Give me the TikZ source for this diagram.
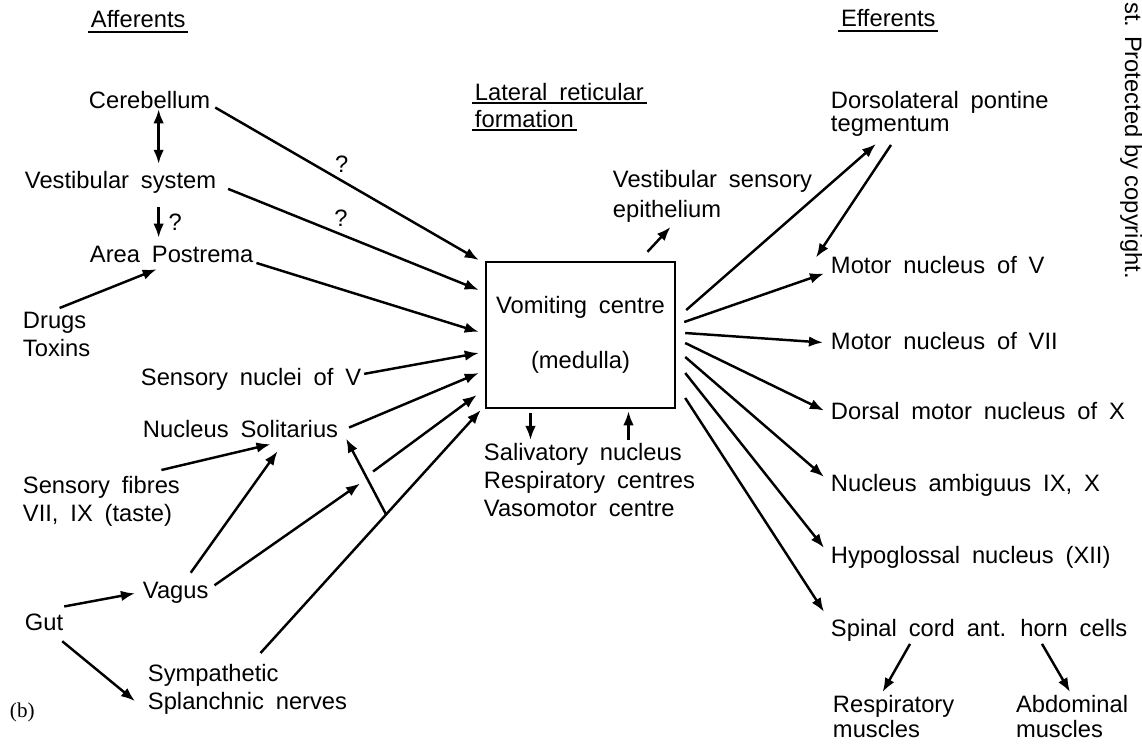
\documentclass[tikz,border=0pt]{standalone}
\usepackage{fontspec}
\setmainfont{Liberation Sans}[WordSpace=1.8]
\newfontfamily\tagfont{Liberation Serif}
\newfontfamily\markfont{Liberation Sans}
\usetikzlibrary{calc, arrows.meta}

\begin{document}
\begin{tikzpicture}[x=0.02cm, y=-0.02cm, line width=1.4pt, >={Latex[length=8pt,width=6pt]},
        lbl/.style={inner sep=1pt, anchor=base west, align=left, font=\fontsize{13.5}{16}\selectfont},
        lbls/.style={lbl, anchor=north west},
        qm/.style={inner sep=1pt, font=\fontsize{13.5}{16}\selectfont},
        arr/.style={->},
        uline/.style={line width=1.1pt}]
        \useasboundingbox (0,0) rectangle (1142,744);

        % Headings
        \node[lbl] (aff) at (88,27) {Afferents};
        \node[lbl] (lat1) at (472,100) {Lateral reticular};
        \node[lbl] (lat2) at (472,127) {formation};
        \node[lbl] (eff) at (838,26) {Efferents};
        \draw[uline] ($(aff.base west)+(0,5)$) -- ($(aff.base east)+(0,5)$);
        \draw[uline] ($(lat1.base west)+(0,3)$) -- ($(lat1.base east)+(0,3)$);
        \draw[uline] ($(lat2.base west)+(0,3)$) -- ($(lat2.base east)+(0,3)$);
        \draw[uline] ($(eff.base west)+(0,5)$) -- ($(eff.base east)+(0,5)$);

        % Afferents
        \node[lbl] (cereb) at (86,108) {Cerebellum};
        \node[lbl] (vest) at (22,188) {Vestibular system};
        \node[lbl] (area) at (87,262) {Area Postrema};
        \node[lbls] (drugs) at (20,309) {Drugs\\Toxins};
        \node[lbl] (sensV) at (138,385) {Sensory nuclei of V};
        \node[lbl] (nts) at (140,437) {Nucleus Solitarius};
        \node[lbls] (fibres) at (20,473) {Sensory fibres\\VII, IX (taste)};
        \node[lbl] (vagus) at (140,598) {Vagus};
        \node[lbl] (gut) at (22,630) {Gut};
        \node[lbls] (splanch) at (145,661) {Sympathetic\\Splanchnic nerves};
        \node[lbl, font=\tagfont\fontsize{12}{14}\selectfont] (tagb) at (7,717) {(b)};

        % Centre
        \node[draw, minimum width=3.78cm, minimum height=2.92cm, align=center,
              font=\fontsize{13.5}{16}\selectfont] (vc) at (580.5,335) {Vomiting centre\\[15pt](medulla)};
        \node[lbls] (below) at (481,440) {Salivatory nucleus\\Respiratory centres\\Vasomotor centre};
        \node[lbls] (vse) at (610,167) {Vestibular sensory\\[1pt]epithelium};

        % Efferents
        \node[lbls] (dpt) at (828,88) {Dorsolateral pontine\\[-3pt]tegmentum};
        \node[lbl] (mV) at (828,273) {Motor nucleus of V};
        \node[lbl] (mVII) at (828,349) {Motor nucleus of VII};
        \node[lbl] (dmX) at (828,419) {Dorsal motor nucleus of X};
        \node[lbl] (amb) at (828,491) {Nucleus ambiguus IX, X};
        \node[lbl] (hyp) at (828,563) {Hypoglossal nucleus (XII)};
        \node[lbl] (spinal) at (828,636) {Spinal cord ant. horn cells};
        \node[lbls] (resp) at (830,692) {Respiratory\\[-1.5pt]muscles};
        \node[lbls] (abd) at (1013,692) {Abdominal\\[-1.5pt]muscles};

        % Margin note
        \node[rotate=-90, anchor=base west, inner sep=0pt,
              font=\markfont\fontsize{13.5}{16}\selectfont] (wm) at (1125,1) {st. Protected by copyright.};

        % Ports on the centre
        \coordinate (pC) at ($(vc.west)+(-6,-75)$);
        \coordinate (pV) at ($(vc.west)+(-6,-45)$);
        \coordinate (pA) at ($(vc.west)+(-6,-3)$);
        \coordinate (pS) at ($(vc.west)+(-6,18)$);
        \coordinate (pN) at ($(vc.west)+(-6,38)$);
        \coordinate (pG) at ($(vc.west)+(-8,60)$);
        \coordinate (pY) at ($(vc.west)+(-4,75)$);
        \coordinate (pO) at ($(vc.north)+(67,-9)$);
        \coordinate (r1) at ($(vc.east)+(10,-25)$);
        \coordinate (r2) at ($(vc.east)+(8,-13)$);
        \coordinate (r3) at ($(vc.east)+(9,-2)$);
        \coordinate (r4) at ($(vc.east)+(9,8)$);
        \coordinate (r5) at ($(vc.east)+(9,22)$);
        \coordinate (r6) at ($(vc.east)+(9,38)$);
        \coordinate (r7) at ($(vc.east)+(9,63)$);
        \coordinate (sd) at ($(vc.south)+(-50,4)$);
        \coordinate (su) at ($(vc.south)+(48,2)$);

        % Splanchnic line and its branch
        \coordinate (s0) at ($(splanch.north)+(13,-8)$);
        \coordinate (J) at ($(s0)!0.57!(pY)$);
        \coordinate (vg1) at ($(J)+(-26,-31)$);
        \coordinate (vg2) at ($(J)+(-13,-43)$);

        % Afferent arrows
        \draw[<->] ($(cereb.south)+(9,-2)$) -- ($(cereb.south |- vest.north)+(9,-4)$);
        \draw[arr] ($(cereb.south |- vest.south)+(9,11)$) -- ($(cereb.south |- area.north)+(9,-5)$)
            node[qm, midway, right=4pt] {?};
        \draw[arr] ($(cereb.east)+(2,8)$) -- (pC) node[qm, pos=.48, above=3pt] {?};
        \draw[arr] ($(vest.east)+(9,7)$) -- (pV) node[qm, pos=.45, above=3pt] {?};
        \draw[arr] ($(area.east)+(0,9)$) -- (pA);
        \draw[arr] ($(drugs.north)+(3,-1)$) -- ($(area.south)+(-15,4)$);
        \draw[arr] ($(sensV.east)+(0,-5)$) -- (pS);
        \draw[arr] ($(nts.east)+(8,-1)$) -- (pN);
        \draw[arr] ($(fibres.north)+(60,-3)$) -- ($(nts.south)+(30,4)$);
        \draw[arr] ($(vagus.north)+(15,-6)$) -- ($(nts.south)+(37,11)$);
        \draw[arr] ($(vagus.east)+(3,-7)$) -- (vg1);
        \draw[arr] (vg2) -- (pG);
        \draw[arr] (s0) -- (pY);
        \draw[arr] (J) -- ($(nts.east)+(5,10)$);
        \draw[arr] ($(gut.north east)+(-2,-4)$) -- ($(vagus.west)+(-5,1)$);
        \draw[arr] ($(gut.south east)+(-4,8)$) -- ($(splanch.west)+(-10,12)$);

        % Outputs below and above the centre
        \draw[arr] (sd) -- (sd |- below.north);
        \draw[arr] (su |- below.north) -- (su);
        \draw[arr] (pO) -- ($(vse.south)+(-42,2)$);

        % Efferent arrows
        \draw[arr] (r1) -- ($(dpt.south west)+(48,5)$);
        \draw[arr] ($(dpt.south west)+(63,6)$) -- ($(mV.west)+(-12,-7)$);
        \draw[arr] (r2) -- ($(mV.west)+(-4,9)$);
        \draw[arr] (r3) -- ($(mVII.west)+(-5,2)$);
        \draw[arr] (r4) -- ($(dmX.west)+(-4,0)$);
        \draw[arr] (r5) -- ($(amb.west)+(-4,-8)$);
        \draw[arr] (r6) -- ($(hyp.west)+(-4,-9)$);
        \draw[arr] (r7) -- ($(spinal.west)+(-4,-18)$);
        \draw[arr] ($(spinal.south west)+(82,0)$) -- ($(resp.north)+(-11,0)$);
        \draw[arr] ($(spinal.south west)+(214,0)$) -- ($(abd.north)+(-2,0)$);

\end{tikzpicture}
\end{document}
